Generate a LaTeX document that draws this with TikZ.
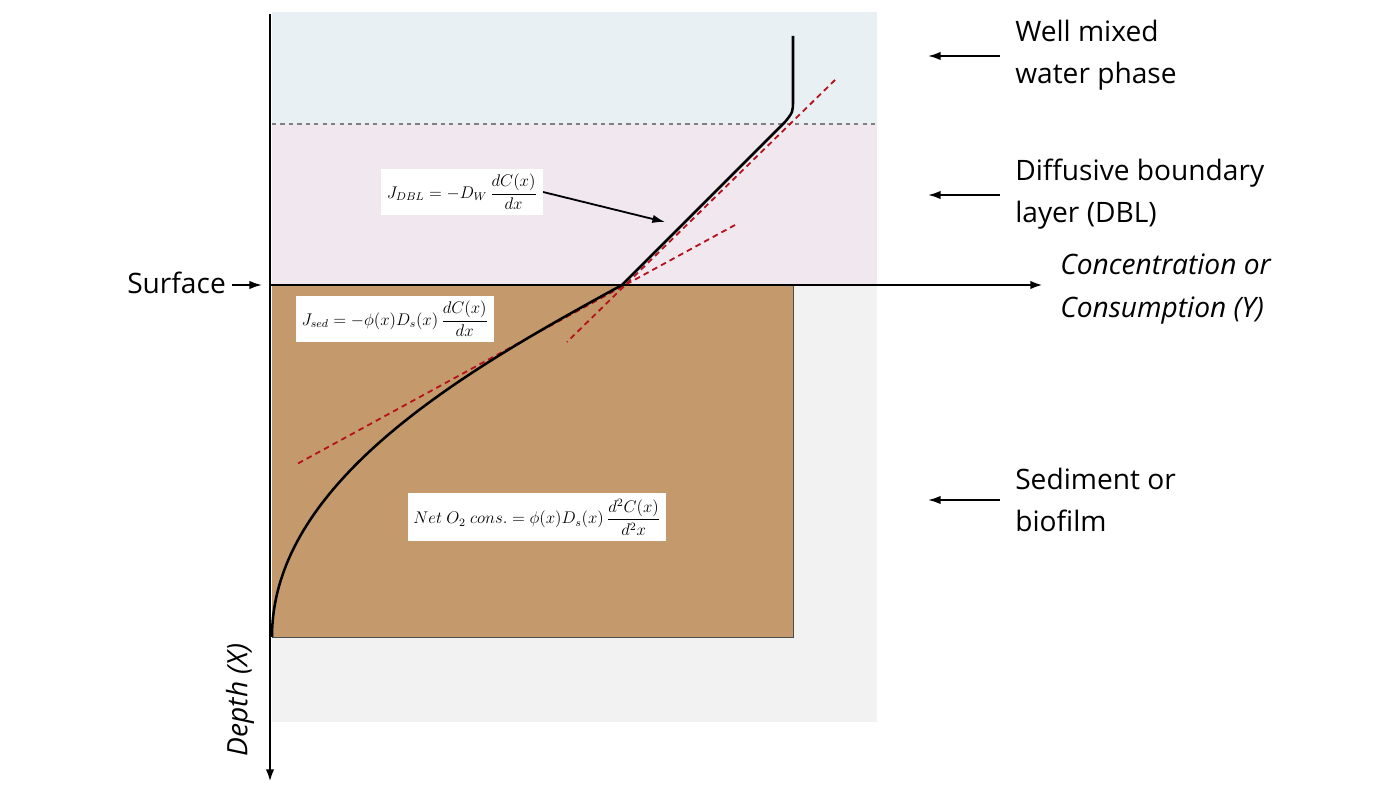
\documentclass[tikz,border=0pt]{standalone}
\usepackage{amsmath}
\usepackage{fontspec}
\setmainfont{Open Sans}
\usetikzlibrary{arrows.meta}
\definecolor{bgg}{HTML}{F2F2F2}
\definecolor{water}{HTML}{E9F0F3}
\definecolor{dbl}{HTML}{F1E7EF}
\definecolor{sed}{HTML}{C49A6C}
\definecolor{tan}{HTML}{B5121B}
\begin{document}
\begin{tikzpicture}[x=0.025cm,y=-0.025cm,
  lbl/.style={font=\fontsize{20}{24}\selectfont,align=left,anchor=west,inner sep=0pt},
  eq/.style={fill=white,inner sep=4pt,font=\large},
  ar/.style={-{Latex[length=9pt,width=6pt]},line width=1.3pt},
  tanl/.style={tan,dashed,line width=1.3pt,dash pattern=on 4pt off 3pt}]
\useasboundingbox (0,0) rectangle (1400,800);
\fill[bgg] (272,12) rectangle (877,722);
\fill[water] (272,12) rectangle (877,124);
\fill[dbl] (272,124) rectangle (877,285);
\draw[gray,dashed,line width=1.2pt] (272,124) -- (877,124);
\fill[sed] (272,285) rectangle (793,637);
\draw[black!70,line width=0.6pt] (272,637) -- (793,637) -- (793,285);
% tangents
\draw[tanl] (835,80) -- (567,342);
\draw[tanl] (735,225) -- (297,464);
% curve
\draw[line width=1.8pt] (793,36) -- (793,100) .. controls (793,112) .. (785,122) -- (622,285) .. controls (470,368) and (272,480) .. (272,637);
% axes
\coordinate (o) at (270,285);
\coordinate (vt) at (270,14);
\coordinate (vb) at (270,782);
\coordinate (he) at (1043,285);
\draw[line width=1.8pt] (vt) -- (o);
\draw[ar,line width=1.8pt] (o) -- (vb);
\draw[ar,line width=1.8pt] (o) -- (he);
% labels
\node[lbl] (surf) at (127,283) {Surface};
\coordinate (sa) at (262,285);
\draw[ar] (232,285) -- (sa);
\node[lbl] (conc) at (1060,289) {\itshape Concentration or\\[6pt]\itshape Consumption (Y)};
\node[font=\fontsize{20}{24}\selectfont\itshape,rotate=90,inner sep=0pt] (depth) at (240,700) {Depth (X)};
\node[lbl] (w) at (1015,55) {Well mixed\\[6pt]water phase};
\node[lbl] (d) at (1015,194) {Diffusive boundary\\[6pt]layer (DBL)};
\node[lbl] (s) at (1015,500) {Sediment or\\[6pt]biofilm};
\coordinate (wa) at (928,56);
\coordinate (da) at (928,195);
\coordinate (sa2) at (928,500);
\draw[ar] (1000,56) -- (wa);
\draw[ar] (1000,195) -- (da);
\draw[ar] (1000,500) -- (sa2);
% equations
\node[eq] (e1) at (462,192) {$J_{DBL}=-D_W\,\dfrac{dC(x)}{dx}$};
\coordinate (e1t) at (665,222);
\draw[ar] (e1.east) -- (e1t);
\node[eq] (e2) at (395,319) {$J_{sed}=-\phi(x)D_s(x)\,\dfrac{dC(x)}{dx}$};
\node[eq] (e3) at (537,517) {$Net\ O_2\ cons.=\phi(x)D_s(x)\,\dfrac{d^2C(x)}{d^2x}$};
\end{tikzpicture}
\end{document}
